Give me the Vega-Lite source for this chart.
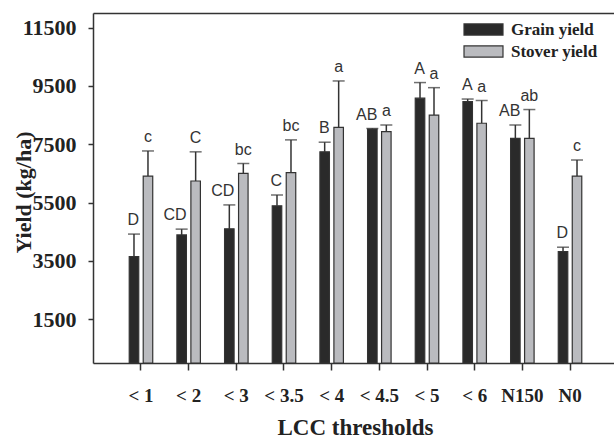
{
  "$schema": "https://vega.github.io/schema/vega-lite/v6.json",
  "width": 521,
  "height": 350,
  "autosize": "none",
  "padding": {"left": 93, "top": 13, "right": 0, "bottom": 76},
  "background": "white",
  "config": {
    "view": {"stroke": null},
    "axis": {"grid": false, "domainColor": "#333333", "domainWidth": 1.5, "tickColor": "#333333", "tickWidth": 1.5, "labelColor": "#222222", "titleColor": "#222222", "labelFont": "Liberation Serif", "labelFontWeight": "bold", "titleFont": "Liberation Serif", "titleFontWeight": "bold"},
    "text": {"font": "Liberation Sans", "fontSize": 16, "color": "#333333"}
  },
  "data": {
    "values": [
      {"lcc": "< 1", "series": "Grain yield", "value": 3650, "upper": 4420, "label": "D"},
      {"lcc": "< 1", "series": "Stover yield", "value": 6410, "upper": 7270, "label": "c"},
      {"lcc": "< 2", "series": "Grain yield", "value": 4390, "upper": 4590, "label": "CD"},
      {"lcc": "< 2", "series": "Stover yield", "value": 6240, "upper": 7240, "label": "C"},
      {"lcc": "< 3", "series": "Grain yield", "value": 4600, "upper": 5420, "label": "CD"},
      {"lcc": "< 3", "series": "Stover yield", "value": 6500, "upper": 6840, "label": "bc"},
      {"lcc": "< 3.5", "series": "Grain yield", "value": 5390, "upper": 5760, "label": "C"},
      {"lcc": "< 3.5", "series": "Stover yield", "value": 6530, "upper": 7650, "label": "bc"},
      {"lcc": "< 4", "series": "Grain yield", "value": 7240, "upper": 7570, "label": "B"},
      {"lcc": "< 4", "series": "Stover yield", "value": 8080, "upper": 9670, "label": "a"},
      {"lcc": "< 4.5", "series": "Grain yield", "value": 8020, "upper": 8040, "label": "AB"},
      {"lcc": "< 4.5", "series": "Stover yield", "value": 7930, "upper": 8160, "label": "a"},
      {"lcc": "< 5", "series": "Grain yield", "value": 9080, "upper": 9615, "label": "A"},
      {"lcc": "< 5", "series": "Stover yield", "value": 8500, "upper": 9440, "label": "a"},
      {"lcc": "< 6", "series": "Grain yield", "value": 8960, "upper": 9050, "label": "A"},
      {"lcc": "< 6", "series": "Stover yield", "value": 8220, "upper": 9000, "label": "a"},
      {"lcc": "N150", "series": "Grain yield", "value": 7700, "upper": 8160, "label": "AB"},
      {"lcc": "N150", "series": "Stover yield", "value": 7700, "upper": 8690, "label": "ab"},
      {"lcc": "N0", "series": "Grain yield", "value": 3820, "upper": 3970, "label": "D"},
      {"lcc": "N0", "series": "Stover yield", "value": 6410, "upper": 6960, "label": "c"}
    ]
  },
  "resolve": {"axis": {"x": "independent"}},
  "layer": [
    {
      "mark": {"type": "rule", "color": "#333333", "strokeWidth": 1.5},
      "encoding": {
        "x": {"field": "lcc", "type": "nominal", "sort": null, "axis": null,
              "scale": {"range": [0, 525], "paddingInner": 0.507, "paddingOuter": 0.76}},
        "xOffset": {"field": "series", "type": "nominal", "scale": {"paddingInner": 0.32, "paddingOuter": 0}},
        "y": {"field": "value", "type": "quantitative", "title": "Yield (kg/ha)"},
        "y2": {"field": "upper"}
      }
    },
    {
      "mark": {"type": "bar", "stroke": "#333333", "strokeWidth": 1.2},
      "encoding": {
        "x": {"field": "lcc", "type": "nominal", "sort": null,
              "axis": {"title": "LCC thresholds", "labelAngle": 0, "labelFontSize": 19, "tickSize": 7, "labelBaseline": "alphabetic", "labelPadding": 31, "titleFontSize": 23, "titleX": 262, "titleY": 71, "titleBaseline": "alphabetic"}},
        "xOffset": {"field": "series", "type": "nominal"},
        "y": {"field": "value", "type": "quantitative", "title": "Yield (kg/ha)",
              "scale": {"domain": [0, 12000], "nice": false},
              "axis": {"values": [1500, 3500, 5500, 7500, 9500, 11500], "format": "d", "labelFontSize": 22, "tickSize": 5, "labelPadding": 12, "titleFontSize": 22, "titleX": -70, "titleY": 179, "titleBaseline": "middle", "titleAngle": -90}},
        "color": {"field": "series", "type": "nominal",
                  "scale": {"range": ["#2a2a2a", "#babbbf"]},
                  "legend": {"title": null, "orient": "none", "legendX": 382, "legendY": 8, "padding": 0,
                             "symbolType": "M-3.5,-1H3.5V1H-3.5Z", "symbolSize": 124, "symbolStrokeColor": "#333333", "symbolStrokeWidth": 1.2, "symbolOpacity": 1,
                             "labelFont": "Liberation Serif", "labelFontWeight": "bold", "labelFontSize": 17, "labelColor": "#222222", "labelOffset": 19, "rowPadding": 4}}
      }
    },
    {
      "mark": {"type": "tick", "orient": "horizontal", "color": "#333333", "size": 12, "thickness": 1.5},
      "encoding": {
        "x": {"field": "lcc", "type": "nominal", "sort": null,
              "axis": {"orient": "top", "labels": false, "ticks": false, "title": null, "domain": true}},
        "xOffset": {"field": "series", "type": "nominal"},
        "y": {"field": "upper", "type": "quantitative", "title": "Yield (kg/ha)"}
      }
    },
    {
      "transform": [{"filter": "datum.series === 'Grain yield'"}],
      "mark": {"type": "text", "align": "right", "baseline": "alphabetic", "dx": 5, "dy": -9},
      "encoding": {
        "x": {"field": "lcc", "type": "nominal", "sort": null, "axis": null},
        "xOffset": {"field": "series", "type": "nominal"},
        "y": {"field": "upper", "type": "quantitative", "title": "Yield (kg/ha)"},
        "text": {"field": "label"}
      }
    },
    {
      "transform": [{"filter": "datum.series === 'Stover yield'"}],
      "mark": {"type": "text", "align": "center", "baseline": "alphabetic", "dy": -9},
      "encoding": {
        "x": {"field": "lcc", "type": "nominal", "sort": null, "axis": null},
        "xOffset": {"field": "series", "type": "nominal"},
        "y": {"field": "upper", "type": "quantitative", "title": "Yield (kg/ha)"},
        "text": {"field": "label"}
      }
    }
  ]
}
